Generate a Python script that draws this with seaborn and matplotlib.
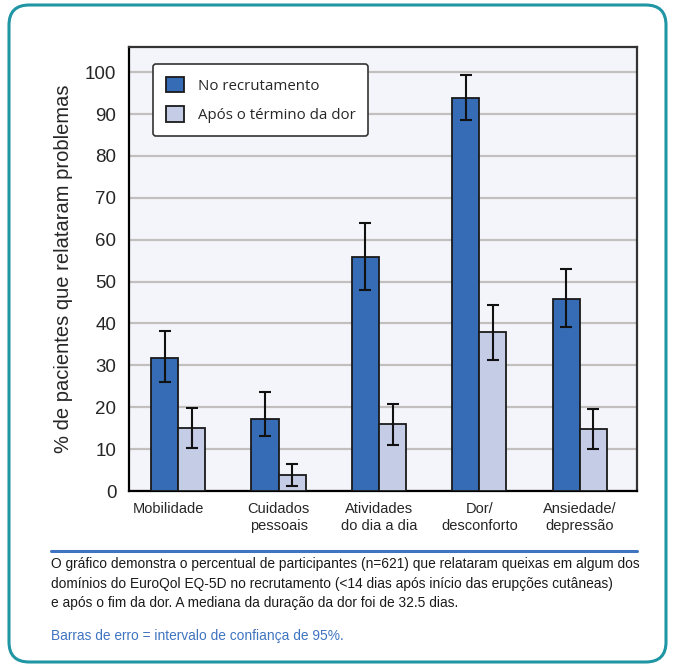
import matplotlib
matplotlib.use("Agg")
import matplotlib.pyplot as plt
import matplotlib.transforms as mtransforms
from matplotlib.patches import FancyBboxPatch
from matplotlib.lines import Line2D
import seaborn as sns
import pandas as pd
import numpy as np

# EQ-5D domains and the share of patients reporting problems (%)
categories = ["Mobilidade", "Cuidados\npessoais", "Atividades\ndo dia a dia",
              "Dor/\ndesconforto", "Ansiedade/\ndepressão"]
groups = ["No recrutamento", "Após o término da dor"]
recruit_pct = [31.7, 17.3, 55.8, 93.9, 45.8]
recruit_lo = [26.1, 13.2, 48.0, 88.5, 39.1]
recruit_hi = [38.3, 23.6, 63.9, 99.4, 53.0]
after_pct = [15.0, 3.9, 16.1, 38.0, 14.9]
after_lo = [10.3, 1.2, 10.9, 31.3, 10.0]
after_hi = [19.9, 6.4, 20.8, 44.5, 19.6]
y_ticks = [0, 10, 20, 30, 40, 50, 60, 70, 80, 90, 100]

df = pd.DataFrame({
    "dominio": categories * 2,
    "grupo": [groups[0]] * 5 + [groups[1]] * 5,
    "pct": recruit_pct + after_pct,
})

sns.set_style("white")
plt.rcParams["font.family"] = ["Liberation Sans", "DejaVu Sans"]

W, H = 674, 667
fig = plt.figure(figsize=(W / 100, H / 100), dpi=100)
ax = fig.add_axes([129 / W, 1 - 491 / H, (637 - 129) / W, (491 - 47) / H])

blue = "#356cb5"
light = "#c5cce6"
sns.barplot(data=df, x="dominio", y="pct", hue="grupo", order=categories,
            hue_order=groups, palette=[blue, light], saturation=1, width=0.54,
            errorbar=None, edgecolor="#1a1a1a", linewidth=1.3, ax=ax,
            legend=False, zorder=3)

# confidence intervals on top of each bar
bars = ax.patches
centers = [b.get_x() + b.get_width() / 2 for b in bars]
means = recruit_pct + after_pct
lows = recruit_lo + after_lo
highs = recruit_hi + after_hi
yerr = np.array([[m - l for m, l in zip(means, lows)],
                 [h - m for m, h in zip(means, highs)]])
ax.errorbar(centers, means, yerr=yerr, fmt="none", ecolor="#111111",
            elinewidth=1.5, capsize=4.5, capthick=1.5, zorder=4)

ax.set_facecolor("#f3f5fa")
ax.set_xlim(-0.49, 4.57)
ax.set_ylim(0, 106)
ax.set_yticks(y_ticks)
ax.set_yticklabels([str(t) for t in y_ticks], fontsize=13.5)
ax.yaxis.grid(True, color="#c3bfbf", linewidth=1.6, zorder=0)
ax.set_axisbelow(True)
ax.tick_params(axis="y", direction="out", length=6, width=2.2, color="black", pad=3)
ax.tick_params(axis="x", length=0, labelsize=10.5, pad=8)
for lbl in ax.get_xticklabels():
    lbl.set_linespacing(1.25)
# the first category label sits a little left of its bars
first = ax.get_xticklabels()[0]
first.set_transform(first.get_transform() +
                    mtransforms.ScaledTranslation(-10 / 100, 0, fig.dpi_scale_trans))
ax.set_xlabel("")
ax.set_ylabel("% de pacientes que relataram problemas", fontsize=14.5, labelpad=9)
for side in ["left", "bottom"]:
    ax.spines[side].set_color("black")
    ax.spines[side].set_linewidth(1.6)
for side in ["top", "right"]:
    ax.spines[side].set_visible(True)
    ax.spines[side].set_color("#333333")
    ax.spines[side].set_linewidth(1.6)

handles = [plt.Rectangle((0, 0), 1, 1, facecolor=c, edgecolor="#1a1a1a", linewidth=1.3)
           for c in [blue, light]]
leg = ax.legend(handles, groups, loc="upper left", bbox_to_anchor=(0.047, 0.962),
                frameon=True, fancybox=True, handlelength=1.25,
                handleheight=1.25, handletextpad=0.9, labelspacing=0.85,
                borderpad=0.85, borderaxespad=0,
                prop={"family": ["Open Sans", "DejaVu Sans"], "size": 10.8})
leg.get_frame().set_edgecolor("#333333")
leg.get_frame().set_linewidth(1.2)
leg.get_frame().set_facecolor("white")
leg.get_frame().set_alpha(1)

# outer rounded frame
frame = FancyBboxPatch((9 / W, 5 / H), (666 - 9) / W, (662 - 5) / H,
                       boxstyle="round,pad=0,rounding_size=0.03",
                       transform=fig.transFigure, facecolor="none",
                       edgecolor="#2096a4", linewidth=2.2, zorder=0)
fig.patches.append(frame)

# caption
fig.add_artist(Line2D([51 / W, 637 / W], [1 - 551 / H, 1 - 551 / H],
                      color="#3f74c0", linewidth=2.2, transform=fig.transFigure))
caption = ("O gráfico demonstra o percentual de participantes (n=621) que relataram queixas em algum dos\n"
           "domínios do EuroQol EQ-5D no recrutamento (<14 dias após início das erupções cutâneas)\n"
           "e após o fim da dor. A mediana da duração da dor foi de 32.5 dias.")
fig.text(51 / W, 1 - 557 / H, caption, fontsize=9.9, va="top", ha="left",
         linespacing=1.52, color="#1a1a1a")
fig.text(51 / W, 1 - 636 / H, "Barras de erro = intervalo de confiança de 95%.",
         fontsize=9.9, va="center", ha="left", color="#3f74c0")

fig.savefig("out.png", dpi=100)
